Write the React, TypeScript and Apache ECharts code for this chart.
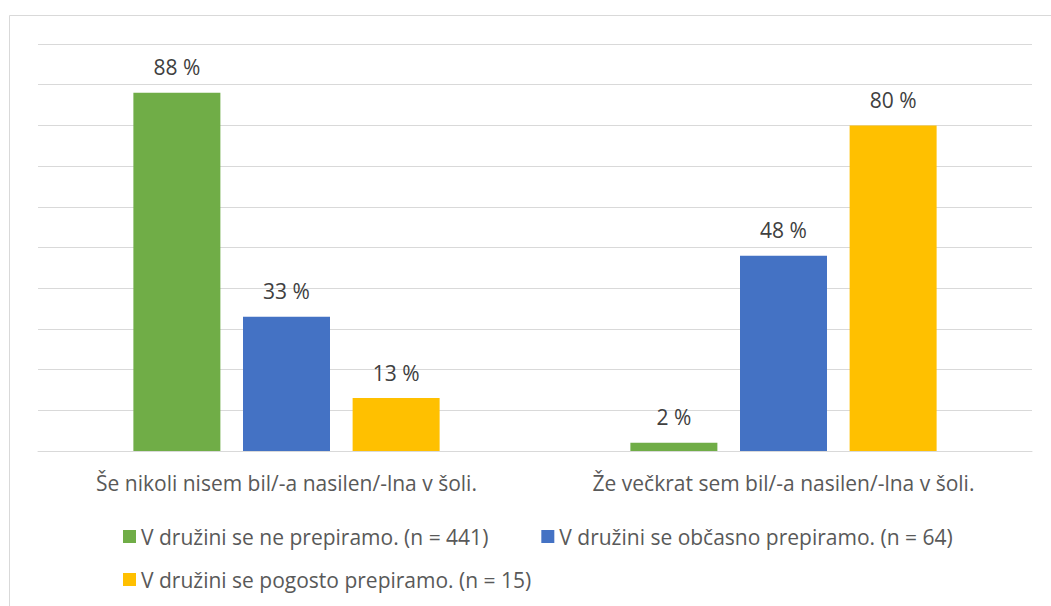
import React, { useEffect, useRef } from "react";
import * as echarts from "echarts";

const categories = [
  "Še nikoli nisem bil/-a nasilen/-lna v šoli.",
  "Že večkrat sem bil/-a nasilen/-lna v šoli.",
];
const seriesNames = [
  "V družini se ne prepiramo. (n = 441)",
  "V družini se občasno prepiramo. (n = 64)",
  "V družini se pogosto prepiramo. (n = 15)",
];
const neVals = [88, 2];
const obcasnoVals = [33, 48];
const pogostoVals = [13, 80];
const colors = ["#70AD47", "#4472C4", "#FFC000"];

const FONT = "'Open Sans', sans-serif";
const FS = 21;

export default function App() {
  const ref = useRef<HTMLDivElement>(null);
  useEffect(() => {
    document.body.style.margin = "0";
    const chart = echarts.init(ref.current!, null, { renderer: "svg" });
    const values = [neVals, obcasnoVals, pogostoVals];
    chart.setOption({
      animation: false,
      textStyle: { fontFamily: FONT },
      graphic: [
        {
          type: "rect",
          shape: { x: 9.5, y: 15.5, width: 1100, height: 700 },
          style: { fill: "none", stroke: "#d9d9d9", lineWidth: 1 },
          silent: true,
        },
      ],
      grid: { left: 38, top: 44, width: 994, height: 407 },
      xAxis: {
        type: "category",
        data: categories,
        axisLine: { lineStyle: { color: "#d9d9d9", width: 1 } },
        axisTick: { show: false },
        axisLabel: { color: "#595959", fontSize: FS, margin: 21, fontFamily: FONT },
      },
      yAxis: {
        type: "value",
        min: 0,
        max: 100,
        interval: 10,
        axisLabel: { show: false },
        axisLine: { show: false },
        axisTick: { show: false },
        splitLine: { lineStyle: { color: "#d9d9d9", width: 1 } },
      },
      legend: [
        {
          data: [seriesNames[0], seriesNames[1]],
          left: 118,
          top: 521,
          itemWidth: 13,
          itemHeight: 13,
          itemGap: 53,
          icon: "rect",
          textStyle: { color: "#595959", fontSize: FS, fontFamily: FONT },
        },
        {
          data: [seriesNames[2]],
          left: 118,
          top: 564,
          itemWidth: 13,
          itemHeight: 13,
          icon: "rect",
          textStyle: { color: "#595959", fontSize: FS, fontFamily: FONT },
        },
      ],
      series: seriesNames.map((name, i) => ({
        name,
        type: "bar",
        data: values[i],
        barWidth: 87,
        barGap: "26%",
        itemStyle: { color: colors[i] },
        label: {
          show: true,
          position: "top",
          distance: 15,
          formatter: (p: any) => `${p.value} %`,
          color: "#404040",
          fontSize: FS,
          fontFamily: FONT,
        },
      })),
    });
    return () => chart.dispose();
  }, []);
  return <div ref={ref} style={{ width: 1051, height: 606 }} />;
}
